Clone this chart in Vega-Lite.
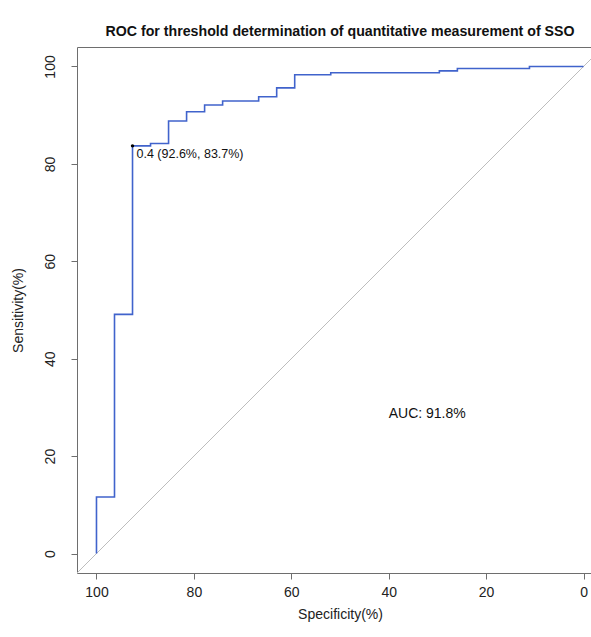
{
  "$schema": "https://vega.github.io/schema/vega-lite/v6.json",
  "autosize": {"type": "none"},
  "width": 526,
  "height": 526,
  "padding": {"left": 77, "top": 47, "right": 0, "bottom": 64},
  "background": "white",
  "config": {
    "font": "Liberation Sans",
    "view": {"stroke": "#6e6e6e", "strokeWidth": 1},
    "axis": {"grid": false, "domain": false, "tickColor": "#6e6e6e", "tickSize": 6, "tickWidth": 1, "labelFontSize": 14, "labelColor": "#222", "titleFontSize": 14, "titleFontWeight": "normal", "titleColor": "#222", "labelFont": "Liberation Sans", "titleFont": "Liberation Sans"}
  },
  "title": {"text": "ROC for threshold determination of quantitative measurement of SSO", "fontSize": 14.2, "fontWeight": "bold", "font": "Liberation Sans", "color": "#111", "anchor": "middle", "offset": 8},
  "datasets": {
    "roc": [
      {"order": 1, "spec": 100, "sens": 0},
      {"order": 2, "spec": 100, "sens": 11.6},
      {"order": 3, "spec": 96.3, "sens": 11.6},
      {"order": 4, "spec": 96.3, "sens": 49.1},
      {"order": 5, "spec": 92.6, "sens": 49.1},
      {"order": 6, "spec": 92.6, "sens": 83.7},
      {"order": 7, "spec": 88.9, "sens": 83.7},
      {"order": 8, "spec": 88.9, "sens": 84.2},
      {"order": 9, "spec": 85.2, "sens": 84.2},
      {"order": 10, "spec": 85.2, "sens": 88.8},
      {"order": 11, "spec": 81.5, "sens": 88.8},
      {"order": 12, "spec": 81.5, "sens": 90.7},
      {"order": 13, "spec": 77.8, "sens": 90.7},
      {"order": 14, "spec": 77.8, "sens": 92.1},
      {"order": 15, "spec": 74.1, "sens": 92.1},
      {"order": 16, "spec": 74.1, "sens": 92.9},
      {"order": 17, "spec": 66.7, "sens": 92.9},
      {"order": 18, "spec": 66.7, "sens": 93.8},
      {"order": 19, "spec": 63.0, "sens": 93.8},
      {"order": 20, "spec": 63.0, "sens": 95.6},
      {"order": 21, "spec": 59.3, "sens": 95.6},
      {"order": 22, "spec": 59.3, "sens": 98.3},
      {"order": 23, "spec": 51.9, "sens": 98.3},
      {"order": 24, "spec": 51.9, "sens": 98.7},
      {"order": 25, "spec": 29.6, "sens": 98.7},
      {"order": 26, "spec": 29.6, "sens": 99.1},
      {"order": 27, "spec": 25.9, "sens": 99.1},
      {"order": 28, "spec": 25.9, "sens": 99.6},
      {"order": 29, "spec": 11.1, "sens": 99.6},
      {"order": 30, "spec": 11.1, "sens": 100},
      {"order": 31, "spec": 0, "sens": 100}
    ],
    "diag": [
      {"spec": 104, "sens": -4},
      {"spec": -4, "sens": 104}
    ],
    "thr": [
      {"spec": 92.6, "sens": 83.7, "label": "0.4 (92.6%, 83.7%)"}
    ],
    "auc": [
      {"spec": 40, "sens": 30, "label": "AUC: 91.8%"}
    ]
  },
  "encoding": {
    "x": {"field": "spec", "type": "quantitative", "scale": {"domain": [-4, 104], "reverse": true, "nice": false, "zero": false},
      "axis": {"values": [0, 20, 40, 60, 80, 100], "title": "Specificity(%)", "labelPadding": 6, "titlePadding": 8, "labelFlush": false}},
    "y": {"field": "sens", "type": "quantitative", "scale": {"domain": [-4, 104], "nice": false, "zero": false},
      "axis": {"values": [0, 20, 40, 60, 80, 100], "title": "Sensitivity(%)", "labelAngle": -90, "labelAlign": "center", "labelBaseline": "bottom", "labelPadding": 14, "titlePadding": 18, "labelFlush": false}}
  },
  "layer": [
    {"data": {"name": "diag"}, "mark": {"type": "line", "color": "#bdbdbd", "strokeWidth": 1, "clip": true}},
    {"data": {"name": "roc"}, "mark": {"type": "line", "color": "#4063cc", "strokeWidth": 1.6}, "encoding": {"order": {"field": "order", "type": "quantitative"}}},
    {"data": {"name": "thr"}, "mark": {"type": "point", "filled": true, "color": "black", "size": 12, "opacity": 1}},
    {"data": {"name": "thr"}, "mark": {"type": "text", "align": "left", "baseline": "top", "dx": 4, "dy": 2, "fontSize": 12.5, "color": "#111"}, "encoding": {"text": {"field": "label"}}},
    {"data": {"name": "auc"}, "mark": {"type": "text", "align": "left", "baseline": "top", "fontSize": 14, "color": "#111"}, "encoding": {"text": {"field": "label"}}}
  ]
}
